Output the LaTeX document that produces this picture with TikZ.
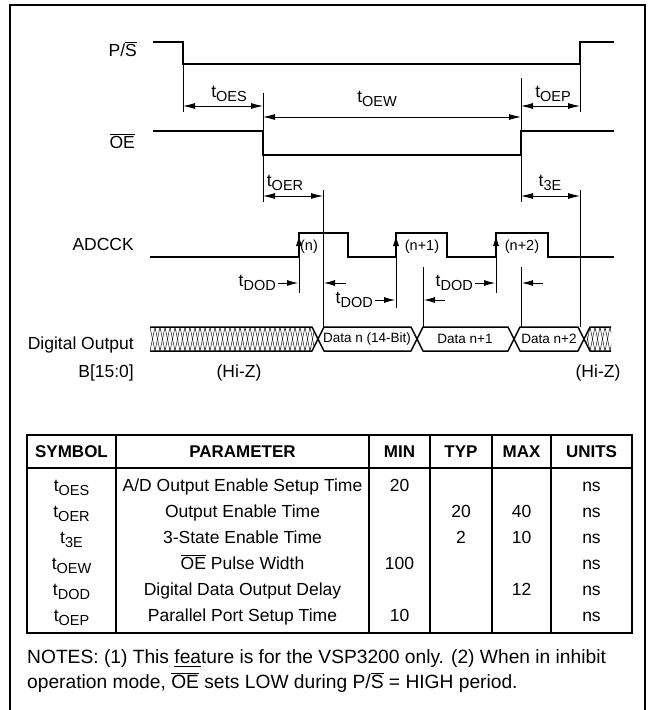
\documentclass[tikz,border=0pt]{standalone}
\usepackage{fontspec}
\setmainfont{Liberation Sans}
\usetikzlibrary{arrows.meta,positioning,calc}
\newcommand{\tsym}[1]{t\raisebox{-0.45ex}{\fontsize{14.5}{14.5}\selectfont #1}}
\newcommand{\ovl}[1]{$\overline{\mbox{#1}}$}
\newcommand{\lowbar}[1]{\setbox0\hbox{#1}\rlap{\rule[-4pt]{\wd0}{0.9pt}}#1}

\begin{document}
\begin{tikzpicture}[x=1pt,y=-1pt,
  sig/.style={line width=1.8pt},
  tick/.style={line width=0.7pt},
  dim/.style={line width=0.8pt,{Latex[length=12pt,width=6pt]}-{Latex[length=12pt,width=6pt]}},
  dod/.style={line width=0.8pt,-{Latex[length=11pt,width=6pt]}},
  edge/.style={line width=1pt,-{Latex[length=11pt,width=6pt]}},
  lbl/.style={font=\fontsize{17.5}{20}\selectfont,inner sep=0pt},
  cell/.style={lbl,anchor=base},
  small/.style={font=\fontsize{13.5}{16}\selectfont,inner sep=0pt},
  clk/.style={font=\fontsize{14.5}{16}\selectfont,inner sep=0pt},
  head/.style={font=\fontsize{17}{20}\selectfont\bfseries,inner sep=0pt},
  note/.style={font=\fontsize{19.2}{22}\selectfont,inner sep=0pt},
  bus/.style={line width=1.5pt,line join=round},
  hatch/.style={line width=0.45pt},
  rule/.style={line width=1.3pt}]
  \useasboundingbox (0,0) rectangle (652,710);
  % outer frame
  \draw[line width=2.5pt] (10,712) -- (10,5) -- (645,5) -- (645,712);

  % signal names
  \node[lbl,anchor=east] (lps) at (137,49) {P/\ovl{S}};
  \node[lbl,anchor=east] (loe) at (135,141) {\ovl{OE}};
  \node[lbl,anchor=east] (lck) at (134,244) {ADCCK};
  \node[lbl,anchor=east] (ldo) at (134,345) {Digital Output};
  \node[lbl,anchor=east] (lbus) at (134,373) {B[15:0]};

  % extension lines
  \draw[tick] (183,64) -- (183,112);
  \draw[tick] (263,93) -- (263,202);
  \draw[tick] (521,78) -- (521,202);
  \draw[tick] (580,64) -- (580,112);
  \draw[tick] (323,190) -- (323,327);
  \draw[tick] (580,190) -- (580,327);
  \draw[tick] (299,257) -- (299,293);
  \draw[tick] (396,257) -- (396,308);
  \draw[tick] (423,267) -- (423,327);
  \draw[tick] (496,257) -- (496,293);
  \draw[tick] (521,267) -- (521,327);

  % waveforms
  \draw[sig] (153,42) -- (183,42) -- (183,64) -- (580,64) -- (580,42) -- (614,42);
  \draw[sig] (153,131) -- (263,131) -- (263,155) -- (521,155) -- (521,131) -- (614,131);
  \draw[sig] (150,257) -- (299,257) -- (299,233) -- (348,233) -- (348,257)
    -- (396,257) -- (396,233) -- (447,233) -- (447,257)
    -- (496,257) -- (496,233) -- (548,233) -- (548,257) -- (614,257);
  \foreach \x in {299,396,496}
    \draw[edge] (\x,253) -- (\x,235);
  \node[clk] (cn) at (309,247) {(n)};
  \node[clk] (cn1) at (422,247) {(n+1)};
  \node[clk] (cn2) at (522,247) {(n+2)};

  % timing parameters
  \coordinate (oesA) at (183,106); \coordinate (oesB) at (263,106);
  \coordinate (oewA) at (263,117); \coordinate (oewB) at (521,117);
  \coordinate (oepA) at (521,106); \coordinate (oepB) at (580,106);
  \coordinate (oerA) at (263,196); \coordinate (oerB) at (323,196);
  \coordinate (teA) at (521,196); \coordinate (teB) at (580,196);
  \draw[dim] (oesA) -- (oesB);
  \draw[dim] (oewA) -- (oewB);
  \draw[dim] (oepA) -- (oepB);
  \draw[dim] (oerA) -- (oerB);
  \draw[dim] (teA) -- (teB);
  \node[lbl] (toes) at (229,94) {\tsym{OES}};
  \node[lbl] (toew) at (377,99) {\tsym{OEW}};
  \node[lbl] (toep) at (553,94) {\tsym{OEP}};
  \node[lbl] (toer) at (285,183) {\tsym{OER}};
  \node[lbl] (tte) at (550,183) {\tsym{3E}};

  % output delays
  \coordinate (d1) at (278,283); \coordinate (d1e) at (298,283);
  \coordinate (d2) at (346,283); \coordinate (d2e) at (324,283);
  \coordinate (d3) at (375,300); \coordinate (d3e) at (395,300);
  \coordinate (d4) at (445,300); \coordinate (d4e) at (424,300);
  \coordinate (d5) at (475,283); \coordinate (d5e) at (495,283);
  \coordinate (d6) at (543,283); \coordinate (d6e) at (522,283);
  \foreach \a/\b in {d1/d1e,d2/d2e,d3/d3e,d4/d4e,d5/d5e,d6/d6e}
    \draw[dod] (\a) -- (\b);
  \node[lbl,left=2pt of d1] (tdod1) {\tsym{DOD}};
  \node[lbl,left=2pt of d3] (tdod2) {\tsym{DOD}};
  \node[lbl,left=2pt of d5] (tdod3) {\tsym{DOD}};

  % data bus
  \begin{scope}
    \clip (150,327) -- (312,327) -- (318,339) -- (312,351) -- (150,351) -- cycle;
    \foreach \x in {145,150,...,320} {
      \draw[hatch] (\x,327) -- ++(5,24);
      \draw[hatch] (\x+5,327) -- ++(-5,24);
    }
  \end{scope}
  \begin{scope}
    \clip (584,339) -- (590,327) -- (611,327) -- (611,351) -- (590,351) -- cycle;
    \foreach \x in {580,585,...,610} {
      \draw[hatch] (\x,327) -- ++(5,24);
      \draw[hatch] (\x+5,327) -- ++(-5,24);
    }
  \end{scope}
  \draw[bus] (150,327) -- (312,327) -- (318,339) -- (312,351) -- (150,351);
  \draw[bus] (611,327) -- (590,327) -- (584,339) -- (590,351) -- (611,351);
  \foreach \xa/\xb/\nm in {318/417/dn,417/514/dna,514/584/dnb}
    \draw[bus] (\xa,339) -- (\xa+6,327) -- (\xb-6,327) -- (\xb,339)
      -- (\xb-6,351) -- (\xa+6,351) -- cycle;
  \node[small] (dn) at (367,339) {Data n (14-Bit)};
  \node[small] (dna) at (465,339) {Data n+1};
  \node[small] (dnb) at (549,339) {Data n+2};
  \node[lbl] (hz1) at (239,373) {(Hi-Z)};
  \node[lbl] (hz2) at (598,373) {(Hi-Z)};

  % table
  \draw[line width=2pt] (27,435) rectangle (632,633);
  \draw[rule] (27,468) -- (632,468);
  \foreach \x in {116,369,430,492,551}
    \draw[rule] (\x,435) -- (\x,633);
  \foreach \x/\txt/\nm in {71.5/SYMBOL/hs,242.5/PARAMETER/hp,399.5/MIN/hmin,
      461/TYP/htyp,521.5/MAX/hmax,591.5/UNITS/hu}
    \node[head] (\nm) at (\x,452) {\txt};
  \foreach \s/\p/\mn/\ty/\mx [count=\i from 0] in {
      OES/{A/D Output Enable Setup Time}/20//,
      OER/{Output Enable Time}//20/40,
      3E/{3-State Enable Time}//2/10,
      OEW/{\ovl{OE} Pulse Width}/100//,
      DOD/{Digital Data Output Delay}///12,
      OEP/{Parallel Port Setup Time}/10//} {
    \node[cell] (sym\i) at (71.5,{491+26*\i}) {\tsym{\s}};
    \node[cell] (par\i) at (242.5,{491+26*\i}) {\p};
    \node[cell] (min\i) at (399.5,{491+26*\i}) {\mn};
    \node[cell] (typ\i) at (461,{491+26*\i}) {\ty};
    \node[cell] (max\i) at (521.5,{491+26*\i}) {\mx};
    \node[cell] (uni\i) at (591.5,{491+26*\i}) {ns};
  }

  % notes
  \node[note,anchor=base west] (note1) at (27,663)
    {NOTES: (1) This \lowbar{fea}ture is for the VSP3200 only. (2) When in inhibit};
  \node[note,anchor=base west] (note2) at (27,688)
    {operation mode, \ovl{OE} sets LOW during P/\ovl{S} = HIGH period.};
\end{tikzpicture}
\end{document}
